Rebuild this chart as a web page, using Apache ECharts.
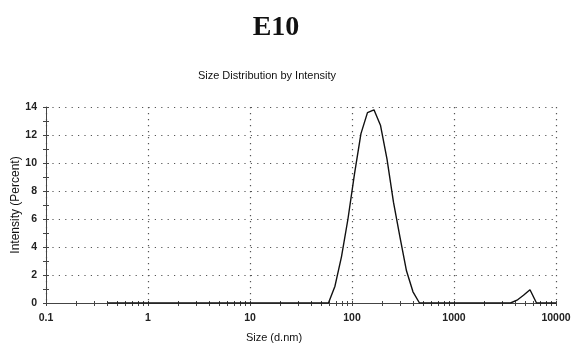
<!DOCTYPE html>
<html><head><meta charset="utf-8">
<script src="https://cdn.jsdelivr.net/npm/echarts@6/dist/echarts.min.js"></script>
<style>html,body{margin:0;padding:0;background:#fff}#c{width:575px;height:343px}</style>
</head><body><div id="c"></div>
<script>
const sizes = [0.4,0.4632,0.5365,0.6213,0.7195,0.8332,0.9649,1.117,1.294,1.499,1.736,2.01,2.328,2.696,3.122,3.615,4.187,4.849,5.615,6.503,7.531,8.721,10.1,11.7,13.54,15.69,18.17,21.04,24.36,28.21,32.67,37.84,43.82,50.75,58.77,68.06,78.82,91.28,105.7,122.4,141.8,164.2,190.1,220.2,255.0,295.3,342.0,396.1,458.7,531.2,615.1,712.4,825.0,955.4,1106,1281,1484,1718,1990,2305,2669,3091,3580,4145,4801,5560,6439,7456,8635,10000];
const intensity = [0,0,0,0,0,0,0,0,0,0,0,0,0,0,0,0,0,0,0,0,0,0,0,0,0,0,0,0,0,0,0,0,0,0,0,1.2,3.3,6.0,9.2,12.1,13.6,13.8,12.7,10.3,7.2,4.7,2.3,0.8,0,0,0,0,0,0,0,0,0,0,0,0,0,0,0,0.2,0.55,0.95,0,0,0,0];
const xTickLabels = [0.1,1,10,100,1000,10000];
const yTickLabels = [0,2,4,6,8,10,12,14];
const titleText = 'E10';
const subtitleText = 'Size Distribution by Intensity';
const xName = 'Size (d.nm)';
const yName = 'Intensity (Percent)';

const minorX = [];
for (let d = 0.1; d < 10000; d *= 10) { for (let k = 1; k <= 9; k++) minorX.push(+(d * k).toPrecision(3)); }
minorX.push(10000);
const minorY = [];
for (let v = 0; v <= 14; v++) minorY.push(v);

const axisColor = '#444';
const gridColor = '#555';
const font = '"Liberation Sans", Arial, sans-serif';
const chart = echarts.init(document.getElementById('c'), null, {renderer: 'canvas'});
const baseX = {type: 'log', logBase: 10, min: 0.1, max: 10000, gridIndex: 0, position: 'bottom'};
const baseY = {type: 'value', min: 0, max: 14, gridIndex: 0, position: 'left'};
chart.setOption({
  animation: false,
  title: [
    {text: titleText, left: 271, top: 9, textAlign: 'center',
     textStyle: {fontFamily: '"Liberation Serif", "Times New Roman", serif', fontWeight: 'bold', fontSize: 28, color: '#111'}},
    {text: subtitleText, left: 262, top: 65, textAlign: 'center',
     textStyle: {fontFamily: font, fontWeight: 'normal', fontSize: 11, color: '#111'}}
  ],
  grid: {left: 46, right: 19, top: 107, bottom: 40, containLabel: false, outerBoundsMode: 'none'},
  xAxis: [
    Object.assign({}, baseX, {
      name: xName, nameLocation: 'middle', nameGap: 29, nameMoveOverlap: false,
      nameTextStyle: {fontFamily: font, fontSize: 11, color: '#111', padding: [0, 54, 0, 0]},
      axisLine: {show: true, lineStyle: {color: axisColor, width: 1}},
      axisTick: {show: false},
      axisLabel: {show: true, customValues: xTickLabels, margin: 10, fontFamily: font, fontSize: 10.5, fontWeight: 'bold', color: '#222',
        formatter: v => String(+(+v).toPrecision(3))},
      splitLine: {show: true, lineStyle: {color: gridColor, width: 1.2, type: [1.2, 4.8]}}
    }),
    Object.assign({}, baseX, {
      axisLine: {show: false}, axisLabel: {show: false}, splitLine: {show: false},
      axisTick: {show: true, customValues: minorX, length: 3, inside: false, lineStyle: {color: axisColor}}
    }),
    Object.assign({}, baseX, {
      axisLine: {show: false}, axisLabel: {show: false}, splitLine: {show: false},
      axisTick: {show: true, customValues: minorX, length: 2, inside: true, lineStyle: {color: axisColor}}
    })
  ],
  yAxis: [
    Object.assign({}, baseY, {
      interval: 2,
      name: yName, nameLocation: 'middle', nameGap: 24, nameRotate: 90, nameMoveOverlap: false,
      nameTextStyle: {fontFamily: font, fontSize: 12, color: '#111'},
      axisLine: {show: true, lineStyle: {color: axisColor, width: 1}},
      axisTick: {show: false},
      axisLabel: {show: true, customValues: yTickLabels, margin: 9, fontFamily: font, fontSize: 10.5, fontWeight: 'bold', color: '#222'},
      splitLine: {show: true, lineStyle: {color: gridColor, width: 1.2, type: [1.2, 5.2]}}
    }),
    Object.assign({}, baseY, {
      axisLine: {show: false}, axisLabel: {show: false}, splitLine: {show: false},
      axisTick: {show: true, customValues: minorY, length: 3, inside: false, lineStyle: {color: axisColor}}
    }),
    Object.assign({}, baseY, {
      axisLine: {show: false}, axisLabel: {show: false}, splitLine: {show: false},
      axisTick: {show: true, customValues: minorY, length: 3, inside: true, lineStyle: {color: axisColor}}
    })
  ],
  series: [{
    type: 'line', xAxisIndex: 0, yAxisIndex: 0,
    data: sizes.map((s, i) => [s, intensity[i]]),
    showSymbol: false, symbol: 'none', smooth: false,
    lineStyle: {color: '#111', width: 1.4},
    z: 5
  }]
});
</script></body></html>
